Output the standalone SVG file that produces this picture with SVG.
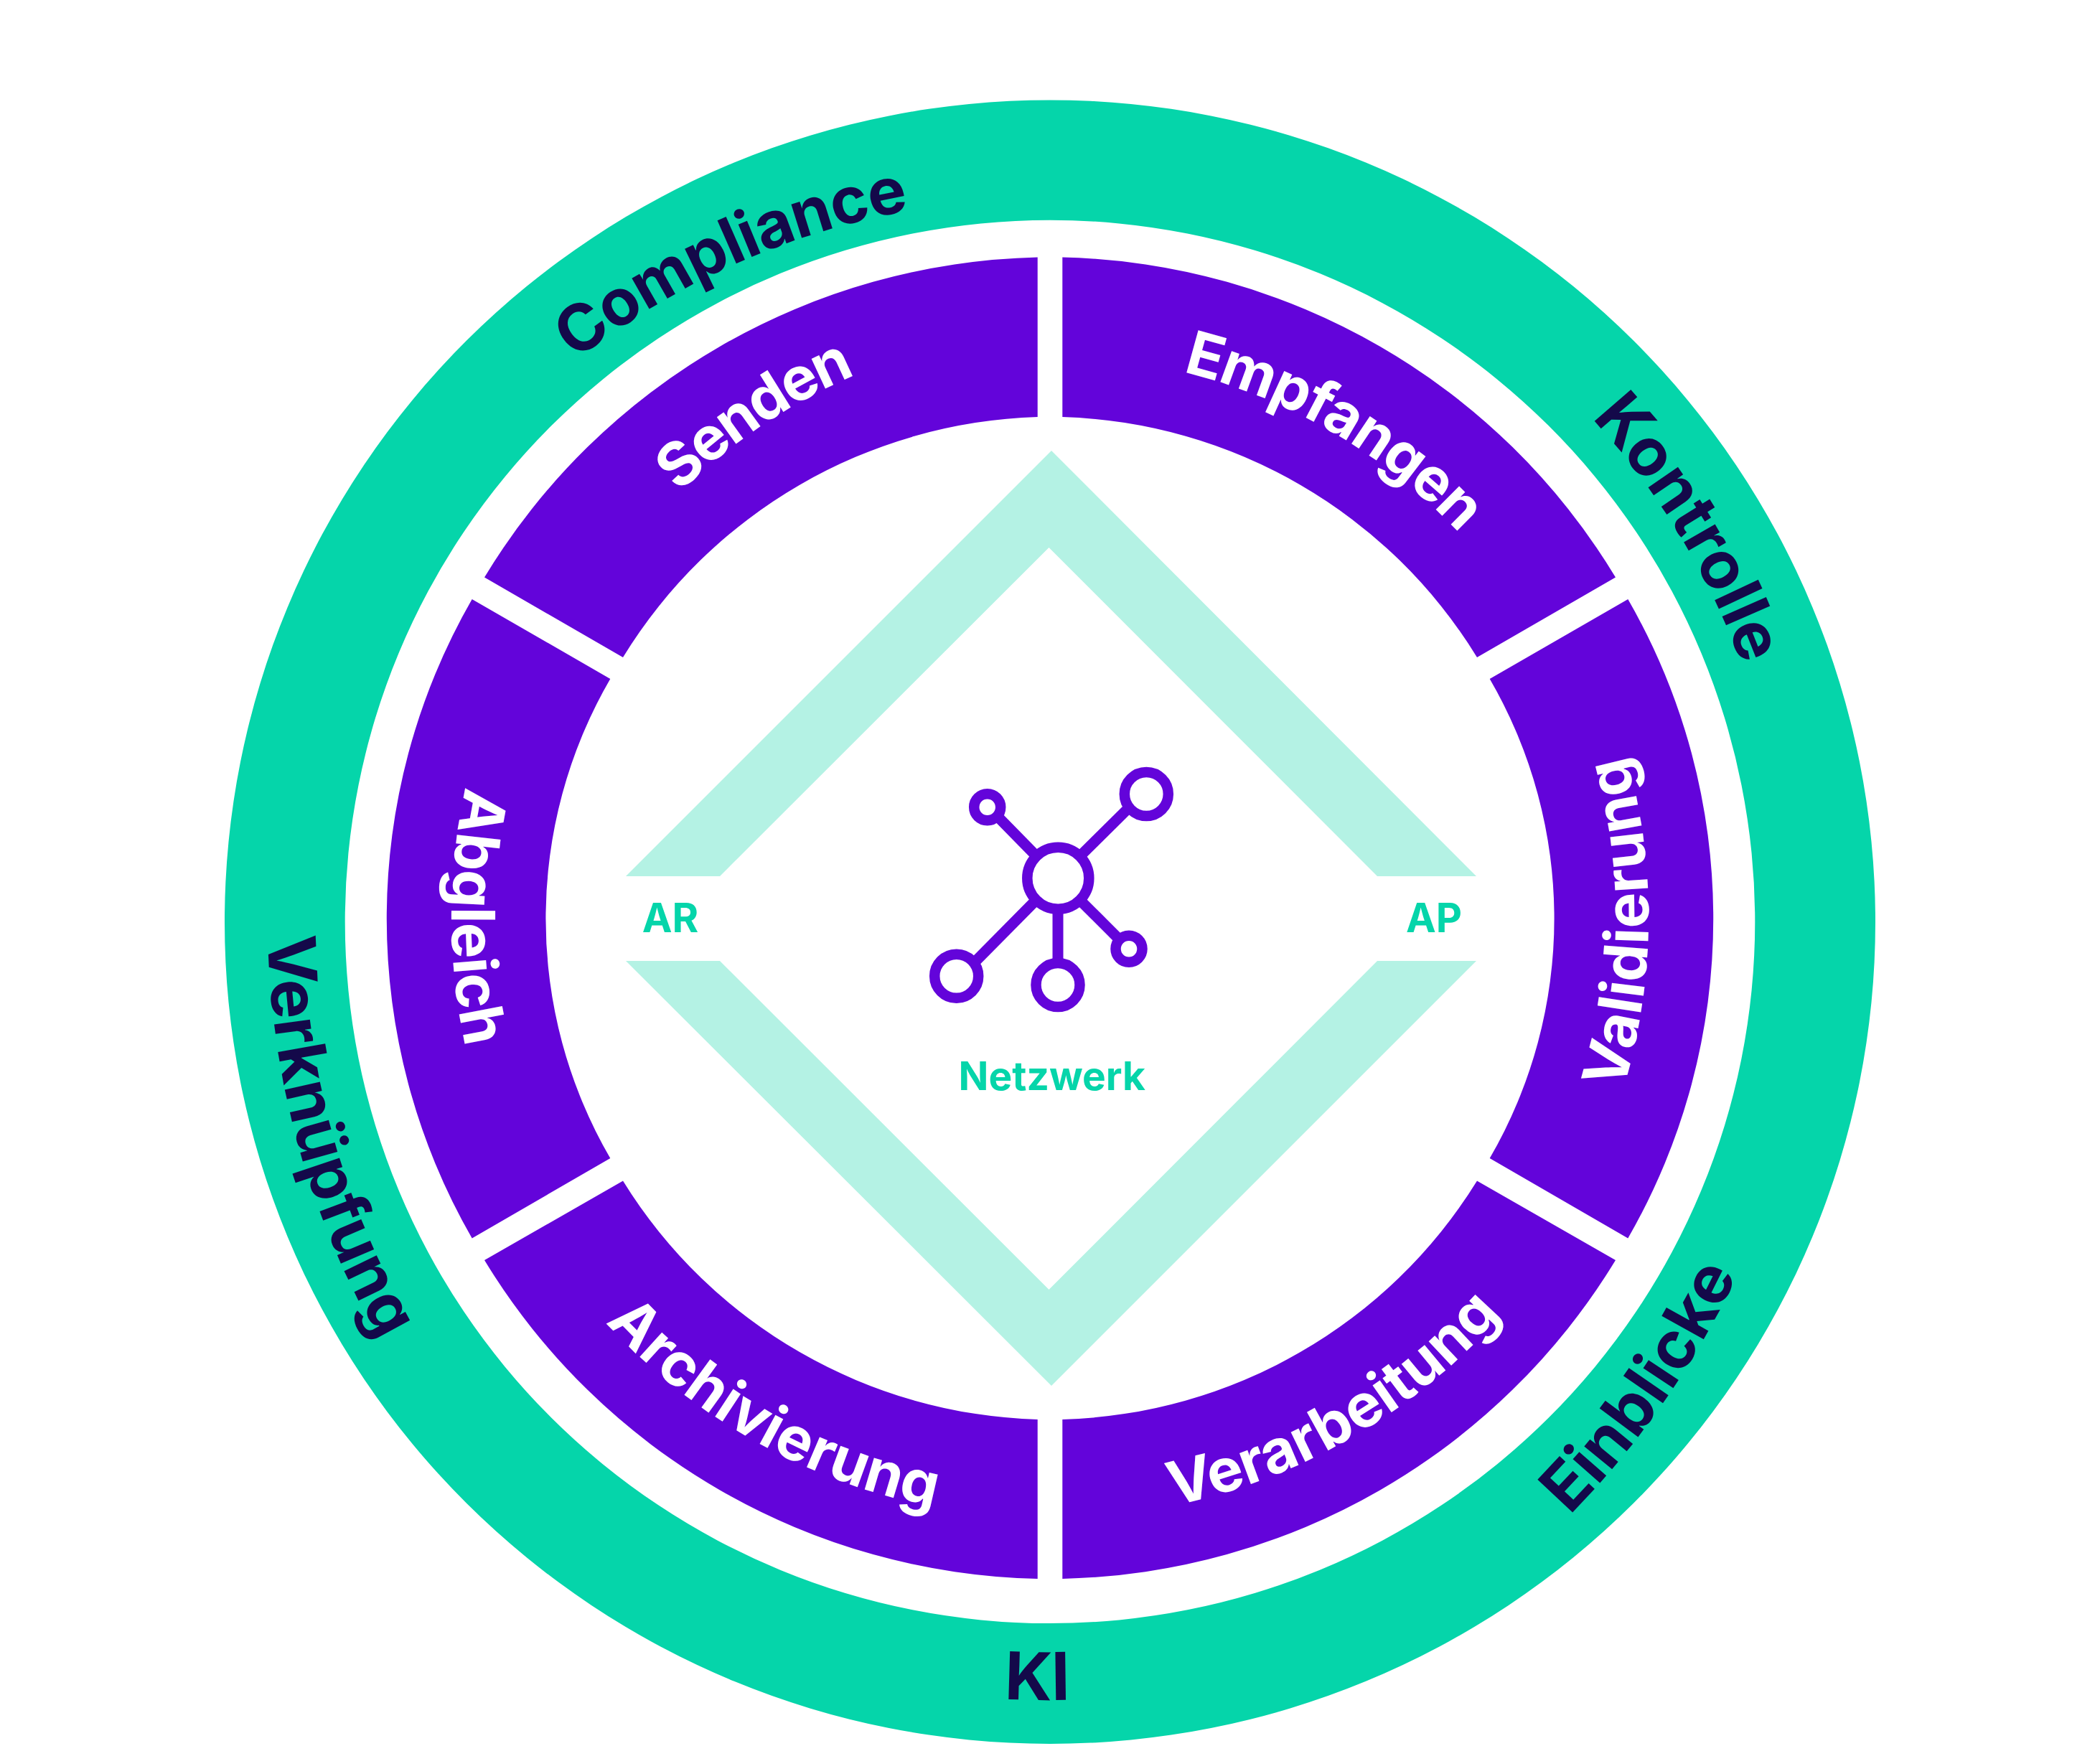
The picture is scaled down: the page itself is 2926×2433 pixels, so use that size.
<svg xmlns="http://www.w3.org/2000/svg" width="2926" height="2433" viewBox="0 0 2926 2433">
<style>
text{font-family:"Inter","Liberation Sans",sans-serif;font-weight:700;text-anchor:middle}
.ring{fill:#05D5AA;fill-rule:evenodd}
.seg{fill:#6304DA}
.chev{fill:#B4F2E4}
.ol{font-size:92px;fill:#14094A}
.il{font-size:84px;fill:#FFFFFF}
.gl{font-size:56px;fill:#05D5AA}
.ic{fill:#FFFFFF;stroke:#6304DA;stroke-width:14.5}
.il2{stroke:#6304DA;stroke-width:15;fill:none}
</style>
<defs>
<path id="cw1026" d="M1463 2304A1026 1026 0 1 1 1463 252A1026 1026 0 1 1 1463 2304"/>
<path id="ccw1091" d="M1463 187A1091 1091 0 1 0 1463 2369A1091 1091 0 1 0 1463 187"/>
<path id="cw782" d="M1463 2060A782 782 0 1 1 1463 496A782 782 0 1 1 1463 2060"/>
<path id="ccw838" d="M1463 440A838 838 0 1 0 1463 2116A838 838 0 1 0 1463 440"/>
<path id="ccw834" d="M1463 444A834 834 0 1 0 1463 2112A834 834 0 1 0 1463 444"/>
<path id="compl" d="M790 512Q1007.5 338 1275 292"/>
<path id="verk" d="M389 1091A1169 1169 0 0 0 653.6 2043"/>
<path id="einb" d="M1924 2315A1225 1225 0 0 0 2519 1468"/>
<path id="send" d="M824.6 841.4A790 790 0 0 1 1379.5 468.9"/>
</defs>
<rect width="2926" height="2433" fill="#FFFFFF"/>
<g id="outer-ring">
<path class="ring" d="M313 1284.7A1150 1145.3 0 1 1 2613 1284.7A1150 1145.3 0 1 1 313 1284.7ZM480.7 1284.4A982.3 977.7 0 1 0 2445.3 1284.4A982.3 977.7 0 1 0 480.7 1284.4Z"/>
<text class="ol" style="font-size:90px;letter-spacing:-1px"><textPath href="#compl" startOffset="50.6%">Compliance</textPath></text>
<text class="ol"><textPath href="#cw1026" startOffset="66.3%">Kontrolle</textPath></text>
<text class="ol" style="letter-spacing:0.5px"><textPath href="#einb" startOffset="50.4%">Einblicke</textPath></text>
<text class="ol"><textPath href="#ccw1091" startOffset="49.74%">KI</textPath></text>
<text class="ol"><textPath href="#verk" startOffset="50%">Verknüpfung</textPath></text>
</g>
<g id="seg-empfangen">
<path class="seg" d="M1480.3 358.5A924.7 920.5 0 0 1 2251 804.5L2058 916A702.3 698.5 0 0 0 1480.3 581Z"/>
<text class="il" style="letter-spacing:-2px"><textPath href="#cw782" startOffset="58.39%">Empfangen</textPath></text>
</g>
<g id="seg-validierung">
<path class="seg" d="M2268.3 835A893 893 0 0 1 2268.3 1725.5L2075.7 1614A665.5 665.5 0 0 0 2075.7 946Z"/>
<text class="il" style="letter-spacing:0.5px"><textPath href="#ccw834" startOffset="74.84%">Validierung</textPath></text>
</g>
<g id="seg-verarbeitung">
<path class="seg" d="M2251 1756A924.7 920.5 0 0 1 1480.3 2200L1480.3 1978A702.3 698.5 0 0 0 2058 1645.5Z"/>
<text class="il"><textPath href="#ccw838" startOffset="58.4%">Verarbeitung</textPath></text>
</g>
<g id="seg-archivierung">
<path class="seg" d="M1445.7 2200A924.7 920.5 0 0 1 675 1756L868 1645.5A702.3 698.5 0 0 0 1445.7 1978Z"/>
<text class="il"><textPath href="#ccw838" startOffset="41.84%">Archivierung</textPath></text>
</g>
<g id="seg-abgleich">
<path class="seg" d="M657.7 1725.5A893 893 0 0 1 657.7 835L850.3 946A665.5 665.5 0 0 0 850.3 1614Z"/>
<text class="il"><textPath href="#ccw834" startOffset="25%">Abgleich</textPath></text>
</g>
<g id="seg-senden">
<path class="seg" d="M675 804.5A924.7 920.5 0 0 1 1445.7 358.5L1445.7 581A702.3 698.5 0 0 0 868 916Z"/>
<text class="il" style="letter-spacing:-3px"><textPath href="#send" startOffset="50%">Senden</textPath></text>
</g>
<g id="diamond">
<polygon class="chev" points="872,1221 1465,628 2057,1221 1919,1221 1461.5,763 1003,1221"/>
<polygon class="chev" points="872,1339 1465,1931 2057,1339 1919,1339 1461.5,1797 1003,1339"/>
<text class="gl" x="934" y="1299">AR</text>
<text class="gl" x="1998" y="1299">AP</text>
</g>
<g id="network">
<g transform="translate(0 1.5)">
<g class="il2">
<line x1="1474" y1="1222" x2="1376" y2="1122"/>
<line x1="1474" y1="1222" x2="1575" y2="1122"/>
<line x1="1474" y1="1222" x2="1340" y2="1357.5"/>
<line x1="1474" y1="1222" x2="1474" y2="1371"/>
<line x1="1474" y1="1222" x2="1573" y2="1321"/>
</g>
<circle class="ic" cx="1474.3" cy="1222.3" r="43"/>
<circle class="ic" cx="1597.3" cy="1105" r="30.5"/>
<circle class="ic" cx="1375.7" cy="1123.3" r="18.5"/>
<circle class="ic" cx="1332.7" cy="1358.7" r="30.5"/>
<circle class="ic" cx="1474" cy="1371" r="30.5"/>
<circle class="ic" cx="1573" cy="1320.7" r="18.5"/>
</g>
<text class="gl" style="font-size:55px" x="1465.7" y="1519">Netzwerk</text>
</g>
</svg>
